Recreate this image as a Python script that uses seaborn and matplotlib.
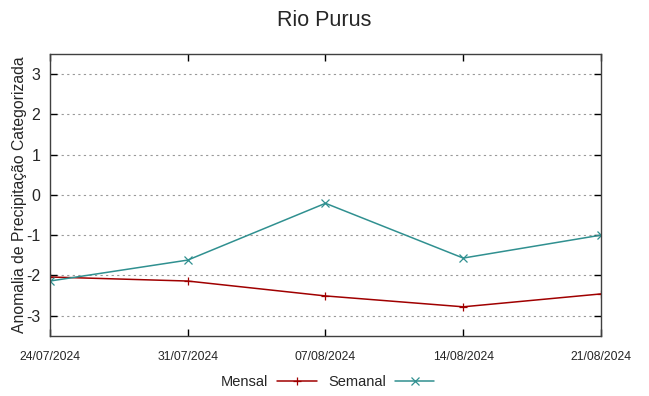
import matplotlib
matplotlib.use("Agg")
import matplotlib.pyplot as plt
import seaborn as sns
import pandas as pd

dates = ['24/07/2024', '31/07/2024', '07/08/2024', '14/08/2024', '21/08/2024']
mensal = [-2.04, -2.14, -2.51, -2.78, -2.46]
semanal = [-2.14, -1.62, -0.21, -1.57, -1.00]
yticks = [-3, -2, -1, 0, 1, 2, 3]

sns.set_style('white')
plt.rcParams['font.family'] = ['Liberation Sans', 'DejaVu Sans']
plt.rcParams['axes.unicode_minus'] = False

df = pd.DataFrame({'data': dates * 2,
                   'valor': mensal + semanal,
                   'serie': ['Mensal'] * 5 + ['Semanal'] * 5})

fig = plt.figure(figsize=(6.49, 3.96), dpi=100)
ax = fig.add_axes([0.077, 0.152, 0.849, 0.712])

colors = {'Mensal': '#a00000', 'Semanal': '#309090'}
markers = {'Mensal': '+', 'Semanal': 'x'}
for serie in ['Mensal', 'Semanal']:
    sub = df[df['serie'] == serie]
    sns.lineplot(x='data', y='valor', data=sub, ax=ax, color=colors[serie],
                 marker=markers[serie], markersize=6, markeredgewidth=0.9,
                 markeredgecolor=colors[serie],
                 linewidth=1.1, label=serie, sort=False)

ax.set_xlim(0, len(dates) - 1)
ax.set_ylim(-3.5, 3.5)
ax.set_yticks(yticks)
ax.set_xticks(range(len(dates)))
ax.set_xticklabels(dates, fontsize=8.8)
ax.tick_params(axis='y', labelsize=11.5, pad=7)
ax.tick_params(direction='in', length=5, width=1, color='black',
               top=True, right=True, bottom=True, left=True)
ax.tick_params(axis='x', pad=11)
ax.yaxis.grid(True, linestyle=(0, (2, 3)), color='#999999', linewidth=0.8)
ax.xaxis.grid(False)
for s in ax.spines.values():
    s.set_color('#404040')
    s.set_linewidth(1)

ax.set_xlabel('')
ax.set_ylabel('Anomalia de Precipitação Categorizada', fontsize=11.3, labelpad=-1)
fig.suptitle('Rio Purus', fontsize=15.5, y=0.975)

handles, labels = ax.get_legend_handles_labels()
ax.get_legend().remove()
fig.legend(handles, labels, loc='center', bbox_to_anchor=(0.505, 1 - 382 / 396),
           ncol=2, frameon=False, markerfirst=False, fontsize=10.5,
           handlelength=2.7, columnspacing=0.8, handletextpad=0.6)

fig.savefig('out.png', dpi=100)
